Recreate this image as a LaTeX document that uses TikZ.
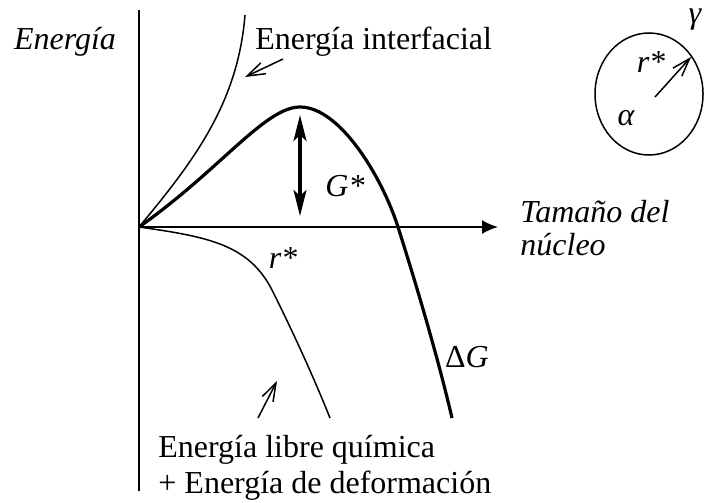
\documentclass[tikz,border=0pt]{standalone}
\usepackage{fontspec}
\setmainfont{Liberation Serif}
\usetikzlibrary{arrows.meta,positioning,shapes.geometric}

\begin{document}
\begin{tikzpicture}[x=0.5pt, y=-0.5pt,
  txt/.style={inner sep=0pt, font=\fontsize{16}{19}\selectfont},
  itxt/.style={txt, font=\fontsize{16}{19}\selectfont\itshape},
  thin/.style={line width=0.75pt},
  thickc/.style={line width=1.6pt},
  barb/.style={thin, -{Straight Barb[length=9pt,width=6pt]}}
]
  \useasboundingbox (0,0) rectangle (704,502);
  % Axes
  \coordinate (O) at (139,227);
  \coordinate (ytop) at (139,10);
  \coordinate (ybot) at (139,491);
  \coordinate (xend) at (498,227);
  \draw[line width=1pt] (ytop) -- (ybot);
  \draw[line width=1pt, -{Latex[length=8pt,width=7pt]}] (O) -- (xend);
  % Labels
  \node[itxt] (energia) at (65,42) {Energía};
  \node[txt, anchor=west] (interf) at (255,42) {Energía interfacial};
  \node[itxt, anchor=west] (tam) at (520,212) {Tamaño del};
  \node[itxt, anchor=west] (nucleo) at (520,245) {núcleo};
  \node[itxt] (gstar) at (345,186) {G*};
  \node[itxt] (rstar) at (283,258) {r*};
  \node[txt] (dg) at (467,357) {Δ\textit{G}};
  \node[txt, anchor=west] (quim) at (158,450) {Energía libre química};
  \node[txt, anchor=west] (deform) at (158,486) {+ Energía de deformación};
  % Curves
  \coordinate (peak) at (300,107);
  \coordinate (cross) at (398,227);
  \coordinate (bend) at (273,292);
  \draw[thin] (O) .. controls (195,160) and (238,102) .. (245,15);
  \draw[thickc] (O) .. controls (220,170) and (265,107) .. (peak)
    .. controls (340,107) and (382,177) .. (cross)
    .. controls (417,287) and (438,358) .. (452,418);
  \draw[thin] (O) .. controls (210,237) and (250,245) .. (bend)
    .. controls (293,332) and (314,378) .. (330,418);
  % Pointers and barrier height
  \coordinate (p1) at (283,59);
  \coordinate (p1e) at (245,77);
  \draw[barb] (p1) -- (p1e);
  \coordinate (p2) at (258,418);
  \coordinate (p2e) at (277,381);
  \draw[barb] (p2) -- (p2e);
  \coordinate (gtop) at (300,115);
  \coordinate (gbot) at (300,216);
  \draw[thickc, {Stealth[length=13pt,width=6.5pt,inset=3pt]}-{Stealth[length=13pt,width=6.5pt,inset=3pt]}] (gtop) -- (gbot);
  % Nucleus
  \node[draw, thin, ellipse, minimum width=54pt, minimum height=61pt, inner sep=0pt] (nuc) at (649,94) {};
  \coordinate (c) at (655,97);
  \coordinate (ce) at (691,57);
  \draw[barb] (c) -- (ce);
  \node[itxt] (rn) at (651,62) {r*};
  \node[itxt] (alpha) at (626,118) {α};
  \node[itxt] (gamma) at (695,20) {γ};
\end{tikzpicture}
\end{document}
